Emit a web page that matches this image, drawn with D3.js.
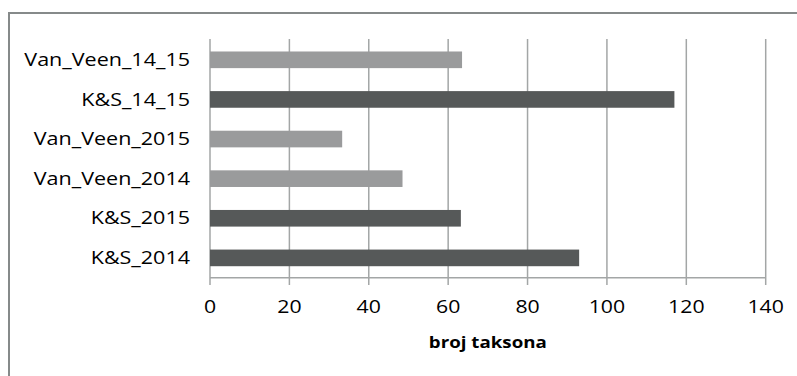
<!DOCTYPE html>
<html><head><meta charset="utf-8">
<script src="https://cdn.jsdelivr.net/npm/d3@7"></script>
<style>body{margin:0;background:#fff}svg{display:block}</style>
</head><body><svg id="c" width="797" height="376"></svg>
<script>
const categories = ["Van_Veen_14_15","K&S_14_15","Van_Veen_2015","Van_Veen_2014","K&S_2015","K&S_2014"];
const values = [63.5, 117, 33.3, 48.5, 63.2, 93];
const groups = ["VV","KS","VV","VV","KS","KS"];
const xTicks = [0,20,40,60,80,100,120,140];
const xTitle = "broj taksona";

const svg = d3.select("#c");
const font = "'Open Sans', sans-serif";
// frame
svg.append("rect").attr("x",9).attr("y",13).attr("width",800).attr("height",380)
  .attr("fill","none").attr("stroke","#868a8a").attr("stroke-width",2);

const x = d3.scaleLinear().domain([0,140]).range([210,765.7]);
const y = d3.scaleBand().domain(categories).range([40,277.7]).paddingInner(0.58).paddingOuter(0.29);
const color = d3.scaleOrdinal().domain(["VV","KS"]).range(["#9a9b9c","#565959"]);

// gridlines
svg.append("g").selectAll("line").data(xTicks).join("line")
  .attr("x1",d=>x(d)).attr("x2",d=>x(d)).attr("y1",39).attr("y2",285)
  .attr("stroke","#a3a6a6").attr("stroke-width",1.5);
// bottom axis line
svg.append("line").attr("x1",x(0)).attr("x2",x(140)).attr("y1",277.7).attr("y2",277.7)
  .attr("stroke","#a3a6a6").attr("stroke-width",1.5);

// bars
svg.append("g").selectAll("rect").data(categories).join("rect")
  .attr("x",x(0)).attr("y",d=>y(d)).attr("height",y.bandwidth())
  .attr("width",(d,i)=>x(values[i])-x(0)).attr("fill",(d,i)=>color(groups[i]));

// category labels
svg.append("g").selectAll("text").data(categories).join("text")
  .attr("transform",d=>`translate(190,${y(d)+y.bandwidth()/2}) scale(1.23,1)`)
  .attr("dy","0.35em")
  .attr("text-anchor","end").attr("font-family",font).attr("font-size",17.5).attr("fill","#000")
  .text(d=>d);

// tick labels
svg.append("g").selectAll("text").data(xTicks).join("text")
  .attr("transform",d=>`translate(${x(d)},307) scale(1.15,1)`)
  .attr("dy","0.35em").attr("text-anchor","middle")
  .attr("font-family",font).attr("font-size",18.5).attr("font-weight",500).attr("fill","#000").text(d=>d);

svg.append("text").attr("transform",`translate(${(x(0)+x(140))/2},342) scale(1.17,1)`).attr("dy","0.35em")
  .attr("text-anchor","middle").attr("font-family",font).attr("font-size",16)
  .attr("font-weight","bold").attr("fill","#000").text(xTitle);
</script></body></html>
